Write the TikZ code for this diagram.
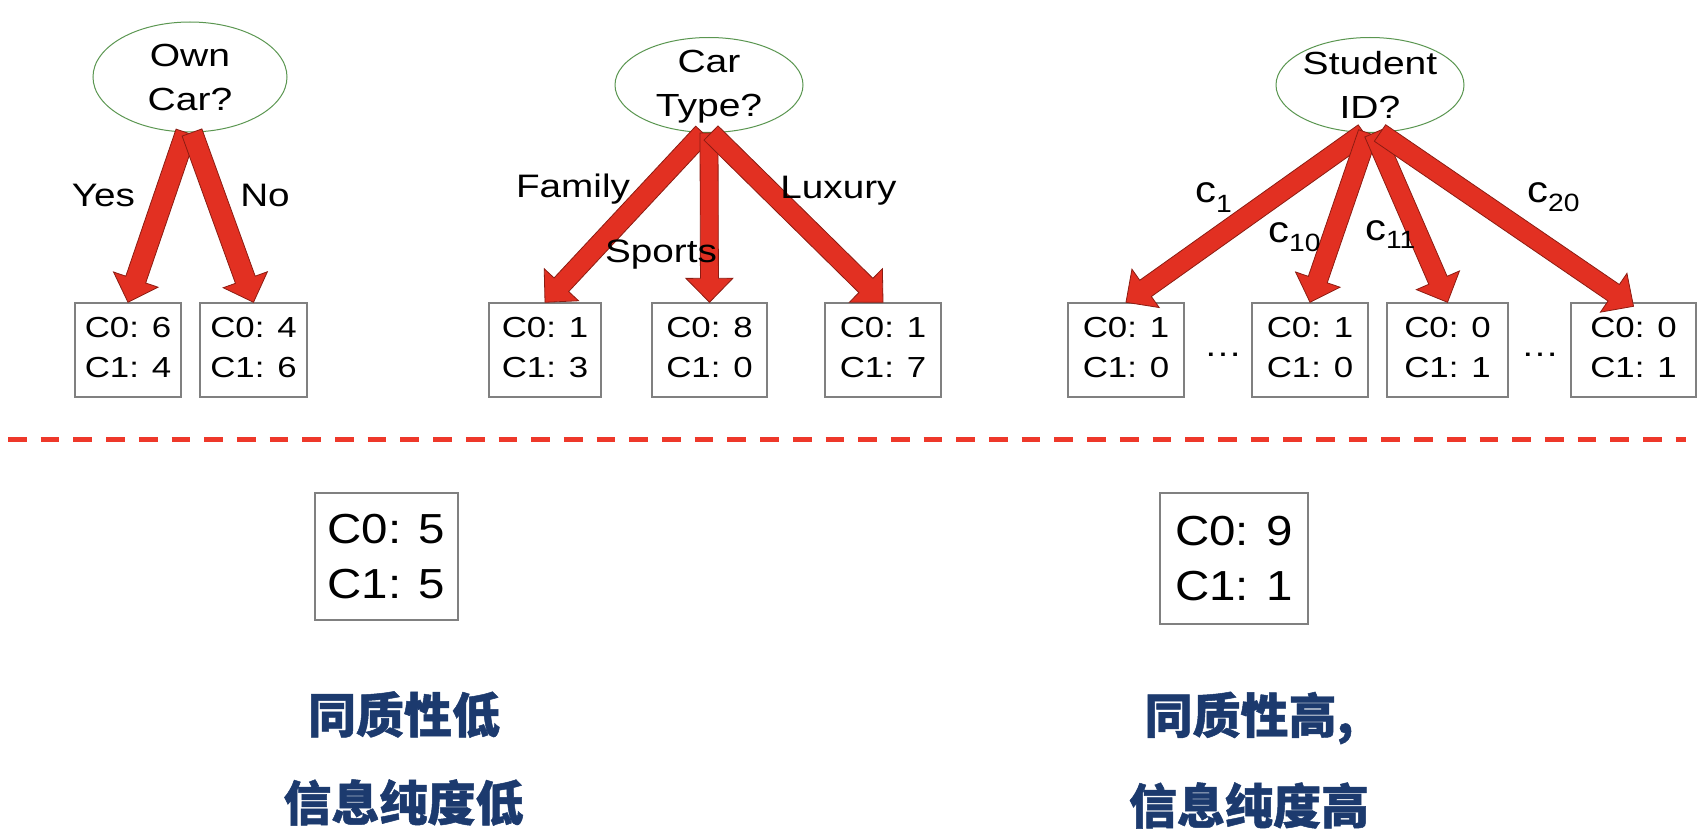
\documentclass[tikz,border=0pt]{standalone}
\usepackage{fontspec}
\setmainfont{Liberation Sans}[FakeStretch=1.13]
\newfontfamily\widelab{Liberation Sans}[FakeStretch=1.22]
\newfontfamily\boxfont{Liberation Sans}[FakeStretch=1.2]
\newfontfamily\edgefont{Liberation Sans}[FakeStretch=1.19]
\newfontfamily\cjk{Noto Sans CJK SC}[BoldFeatures={FakeBold=1}]
\usetikzlibrary{calc,shapes.geometric}
\definecolor{arrowred}{RGB}{226,48,34}
\definecolor{arrowedge}{RGB}{140,28,18}
\definecolor{dashred}{RGB}{238,56,42}
\definecolor{ellgreen}{RGB}{90,150,80}
\definecolor{boxgray}{RGB}{128,128,128}
\definecolor{verdictblue}{RGB}{28,58,110}
\newcommand{\fatarrow}[3][10]{%
  \coordinate (hb) at ($(#3)!24pt!(#2)$);
  \filldraw[fat] ($(#2)!#1pt!90:(#3)$) -- ($(hb)!#1pt!-90:(#2)$) -- ($(hb)!23.5pt!-90:(#2)$)
    -- (#3) -- ($(hb)!23.5pt!90:(#2)$) -- ($(hb)!#1pt!90:(#2)$) -- ($(#2)!#1pt!-90:(#3)$) -- cycle;
}
\begin{document}
\begin{tikzpicture}[x=1pt,y=-1pt,
  decision/.style={ellipse, draw=ellgreen, line width=1pt, inner sep=0pt},
  ellab/.style={font=\widelab\fontsize{32}{44}\selectfont, align=center, inner sep=0pt},
  cnt/.style={draw=boxgray, line width=1.4pt, align=center, inner sep=0pt,
    minimum height=94pt, text depth=5pt, font=\boxfont\fontsize{29}{40}\selectfont},
  bigcnt/.style={draw=boxgray, line width=1.4pt, align=center, inner sep=0pt,
    font=\fontsize{42}{55}\selectfont},
  edgelab/.style={font=\edgefont\fontsize{32.5}{32.5}\selectfont, inner sep=0pt},
  clab/.style={font=\fontsize{37}{37}\selectfont, inner sep=0pt, anchor=base west},
  dots/.style={font=\boxfont\fontsize{32}{32}\selectfont, inner sep=0pt, anchor=base},
  fat/.style={fill=arrowred, draw=arrowedge, line width=0.8pt, line join=miter},
  verdict/.style={font=\cjk\bfseries\fontsize{48}{48}\selectfont, text=verdictblue, inner sep=0pt},
  divider/.style={draw=dashred, line width=5pt, dash pattern=on 18.7pt off 14pt}
]
\fill[white] (0,0) rectangle (1706,840);
\useasboundingbox (0,0) rectangle (1706,840);

% decision nodes
\node[decision, minimum width=194pt, minimum height=110pt,
  label={[ellab]center:Own\\Car?}] (own) at (190,77) {};
\node[decision, minimum width=188pt, minimum height=95pt,
  label={[ellab, yshift=-2pt]center:Car\\Type?}] (ctype) at (709,85) {};
\node[decision, minimum width=188pt, minimum height=95pt,
  label={[ellab]center:Student\\ID?}] (sid) at (1370,85) {};

% count boxes
\node[cnt, minimum width=106pt] (byes) at (128,350) {C0: 6\\C1: 4};
\node[cnt, minimum width=107pt] (bno) at (253.5,350) {C0: 4\\C1: 6};
\node[cnt, minimum width=112pt] (bfam) at (545,350) {C0: 1\\C1: 3};
\node[cnt, minimum width=115pt] (bspo) at (709.5,350) {C0: 8\\C1: 0};
\node[cnt, minimum width=116pt] (blux) at (883,350) {C0: 1\\C1: 7};
\node[cnt, minimum width=116pt] (bc1) at (1126,350) {C0: 1\\C1: 0};
\node[cnt, minimum width=116pt] (bc10) at (1310,350) {C0: 1\\C1: 0};
\node[cnt, minimum width=121pt] (bc11) at (1447.5,350) {C0: 0\\C1: 1};
\node[cnt, minimum width=125pt] (bc20) at (1633.5,350) {C0: 0\\C1: 1};
\node[dots] (dots1) at (1223,356) {…};
\node[dots] (dots2) at (1540,356) {…};

% arrow start points
\coordinate (syes) at ($(own.south)+(-4,0)$);
\coordinate (sno) at ($(own.south)+(2,0)$);
\coordinate (sfam) at ($(ctype.south)+(-6,0)$);
\coordinate (sspo) at ($(ctype.south)+(0,0)$);
\coordinate (slux) at ($(ctype.south)+(2,0)$);
\coordinate (sc1) at ($(sid.south)+(-6,0)$);
\coordinate (sc10) at ($(sid.south)+(-2,0)$);
\coordinate (sc11) at ($(sid.south)+(4,0)$);
\coordinate (sc20) at ($(sid.south)+(10,0)$);
\coordinate (tc20) at ($(bc20.north)+(0,4)$);

\fatarrow[10.5]{syes}{byes.north}
\fatarrow[10.5]{sno}{bno.north}
\fatarrow{sfam}{bfam.north}
\fatarrow[9]{sspo}{bspo.north}
\fatarrow{slux}{blux.north}
\fatarrow{sc1}{bc1.north}
\fatarrow{sc10}{bc10.north}
\fatarrow{sc11}{bc11.north}
\fatarrow{sc20}{tc20}

% edge labels
\node[edgelab] (lyes) at (103.5,195.5) {Yes};
\node[edgelab] (lno) at (265,195.5) {No};
\node[edgelab] (lfam) at (573,189) {Family};
\node[edgelab] (lspo) at (661,255) {Sports};
\node[edgelab] (llux) at (838.5,191) {Luxury};
\node[clab] (lc1) at (1195,202) {c\raisebox{-10pt}{\fontsize{25}{25}\selectfont 1}};
\node[clab] (lc10) at (1268,242) {c\raisebox{-9pt}{\fontsize{25}{25}\selectfont 10}};
\node[clab] (lc11) at (1365,240) {c\raisebox{-9pt}{\fontsize{25}{25}\selectfont 11}};
\node[clab] (lc20) at (1527,203) {c\raisebox{-9pt}{\fontsize{25}{25}\selectfont 20}};

% divider
\coordinate (dl) at (8,439);
\coordinate (dr) at (1686,439);
\draw[divider] (dl) -- (dr);

% summary boxes
\node[bigcnt, minimum width=143pt, minimum height=127pt] (low) at (386.5,556.5) {C0: 5\\C1: 5};
\node[bigcnt, minimum width=148pt, minimum height=131pt] (high) at (1234,558.5) {C0: 9\\C1: 1};

\node[verdict] (v1) at (404,714.5) {同质性低};
\node[verdict] (v2) at (403.5,802.5) {信息纯度低};
\node[verdict] (v3) at (1249,718) {同质性高,};
\node[verdict] (v4) at (1249,805.5) {信息纯度高};
\end{tikzpicture}
\end{document}
